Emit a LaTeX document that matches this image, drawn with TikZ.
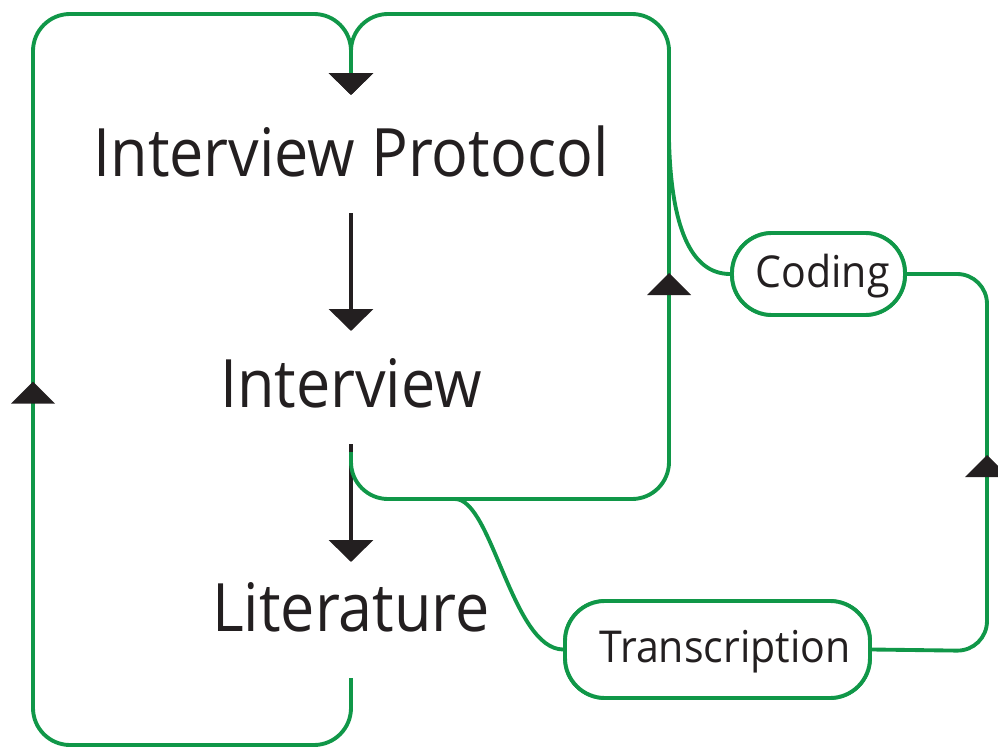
\documentclass[tikz,border=0pt]{standalone}
\usepackage{fontspec}
\setmainfont{Open Sans}
\newfontfamily\stagefont[FakeStretch=0.915]{Open Sans}
\newfontfamily\pillfont[FakeStretch=0.935]{Open Sans}
\usetikzlibrary{arrows.meta,calc}
\definecolor{flowgreen}{RGB}{16,151,72}
\definecolor{ink}{RGB}{35,31,32}
\begin{document}
\begin{tikzpicture}[x=0.02cm,y=-0.02cm,
  stage/.style={font=\stagefont\fontsize{38}{40}\selectfont, text=ink, inner sep=0pt, anchor=base},
  pill/.style={draw=flowgreen, line width=2.2pt, fill=white, rounded corners=0.8cm,
    font=\pillfont\fontsize{25}{27}\selectfont, text=ink, inner sep=0pt,
    text height=0.52cm, text depth=0cm},
  codingbox/.style={pill, minimum width=3.46cm, minimum height=1.64cm},
  transbox/.style={pill, minimum width=6.1cm, minimum height=1.94cm},
  flow/.style={draw=flowgreen, line width=2.2pt, rounded corners=0.74cm},
  stepline/.style={draw=ink, line width=2.1pt, -{Triangle[width=25pt,length=12.5pt]}},
  flowtip/.style={-{Triangle[width=25pt,length=12.5pt,color=ink]}},
  upmark/.pic={\fill[ink] (-22,11) -- (0,-11) -- (22,11) -- cycle;}
]
\useasboundingbox (0,0) rectangle (998,747);
\clip (0,0) rectangle (998,747);

% stages
\node[stage] (proto) at (351,176) {Interview Protocol};
\node[stage] (intv)  at (351,407) {Interview};
\node[stage] (lit)   at (351,631) {Literature};

% side activities
\node[codingbox] (coding) at (818.5,274) {\hspace*{0.16cm}Coding};
\node[transbox] (trans) at (717.5,649.5) {\hspace*{0.3cm}Transcription};

% loop ends and branch points
\coordinate (protoIn) at (351,95);
\coordinate (intvOut) at (351,452);
\coordinate (litOut)  at (351,678);
\coordinate (codeTap) at (669,140);
\coordinate (transTap) at (455,499);

% main sequence
\draw[stepline] ($(proto.base)+(0,37)$) -- ($(intv.base)+(0,-76)$);
\draw[stepline] ($(intv.base)+(0,37)$) -- ($(lit.base)+(0,-69)$);

% feedback loops
\draw[flow, flowtip] (intvOut) -- (351,499) -- (669,499) -- (669,14) -- (351,14) -- (protoIn);
\draw[flow, flowtip] (litOut) -- (351,745) -- (33,745) -- (33,14) -- (351,14) -- (protoIn);

% transcription and coding branch
\draw[flow] (transTap) .. controls (492,499) and (512,649) .. (trans.west);
\draw[flow, rounded corners=0.6cm] (trans.east) -- (987,651) -- (987,274) -- (coding.east);
\draw[flow] (coding.west) .. controls (690,274) and (671,225) .. (codeTap);

% redraw the pills over the branch ends
\node[codingbox] at (coding) {\hspace*{0.16cm}Coding};
\node[transbox] at (trans) {\hspace*{0.3cm}Transcription};

% direction marks on the loops
\pic at (669,284) {upmark};
\pic at (33,392.5) {upmark};
\pic at (987,466) {upmark};
\end{tikzpicture}
\end{document}
